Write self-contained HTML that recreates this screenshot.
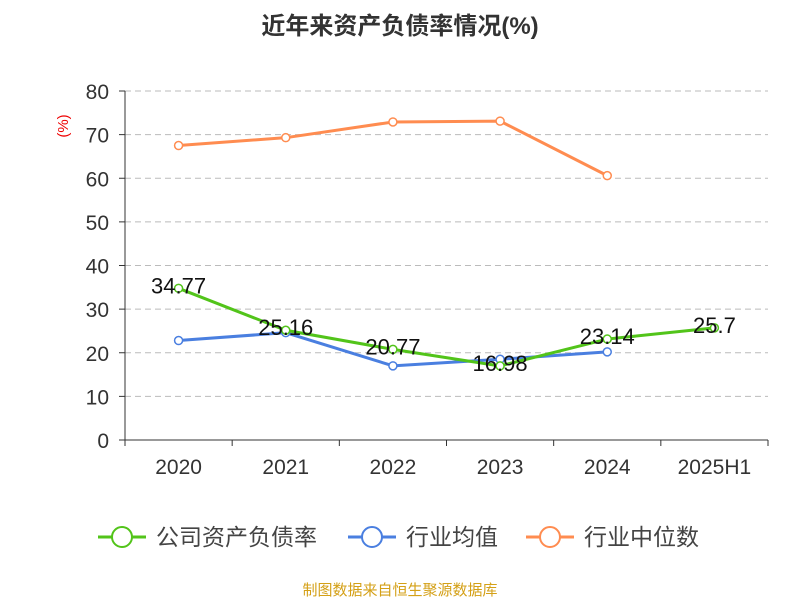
<!DOCTYPE html>
<html><head><meta charset="utf-8"><style>
body{margin:0;background:#fff;font-family:"Liberation Sans","Noto Sans CJK SC",sans-serif;}
svg text{font-family:"Liberation Sans","Noto Sans CJK SC",sans-serif;}
</style></head><body>
<svg id="chart" width="800" height="600">
<text x="400" y="34" text-anchor="middle" font-size="24" font-weight="bold" fill="#333">近年来资产负债率情况(%)</text>
<text x="68" y="126" font-size="15" fill="#e00" transform="rotate(-90 68 126)" text-anchor="middle">(%)</text>
<g id="grid"></g><g id="axes"></g><g id="series"></g><g id="labels"></g>
<g>
<g><line x1="98" y1="537" x2="146" y2="537" stroke="#52c41a" stroke-width="3"/><circle cx="122" cy="537" r="10" fill="#fff" stroke="#52c41a" stroke-width="2"/><text x="156" y="545" font-size="23" fill="#444">公司资产负债率</text></g>
<g><line x1="348" y1="537" x2="396" y2="537" stroke="#4a7fe0" stroke-width="3"/><circle cx="372" cy="537" r="10" fill="#fff" stroke="#4a7fe0" stroke-width="2"/><text x="406" y="545" font-size="23" fill="#444">行业均值</text></g>
<g><line x1="526" y1="537" x2="574" y2="537" stroke="#ff8c50" stroke-width="3"/><circle cx="550" cy="537" r="10" fill="#fff" stroke="#ff8c50" stroke-width="2"/><text x="584" y="545" font-size="23" fill="#444">行业中位数</text></g>
</g>
<text x="400" y="595" text-anchor="middle" font-size="15" fill="#d4a017">制图数据来自恒生聚源数据库</text>
</svg>
<script>
const categories=["2020","2021","2022","2023","2024","2025H1"];
const companyValues=[34.77,25.16,20.77,16.98,23.14,25.7];
const industryAvg=[22.8,24.6,17.0,18.5,20.2,null];
const industryMedian=[67.5,69.3,72.9,73.1,60.6,null];
const yTicks=[0,10,20,30,40,50,60,70,80];
const NS="http://www.w3.org/2000/svg";
const x0=125,x1=768,yBase=440,yTop=91,yMax=80;
const band=(x1-x0)/categories.length;
const xs=i=>x0+band*(i+0.5);
const ys=v=>yBase-(v/yMax)*(yBase-yTop);
function mk(tag,attrs,parent){const e=document.createElementNS(NS,tag);for(const k in attrs)e.setAttribute(k,attrs[k]);document.getElementById(parent).appendChild(e);return e;}
yTicks.forEach(t=>{
 if(t>0){const g=mk('line',{x1:x0,x2:x1,y1:ys(t),y2:ys(t),stroke:'#bbb','stroke-dasharray':'6,4'},'grid');
 
 }
 const tk=mk('line',{x1:x0-6,x2:x0,y1:ys(t),y2:ys(t),stroke:'#333'},'axes');
 
 
 const l=mk('text',{x:x0-16,y:ys(t)+8,'text-anchor':'end','font-size':21,fill:'#333'},'axes');l.textContent=t;
 
 
});
const ya=mk('line',{x1:x0,x2:x0,y1:yTop,y2:yBase,stroke:'#333'},'axes');


const xa=mk('line',{x1:x0,x2:x1,y1:yBase,y2:yBase,stroke:'#333'},'axes');


for(let i=0;i<=categories.length;i++){const t=mk('line',{x1:x0+band*i,x2:x0+band*i,y1:yBase,y2:yBase+6,stroke:'#333'},'axes');
 
 }
categories.forEach((c,i)=>{const l=mk('text',{x:xs(i),y:474,'text-anchor':'middle','font-size':21,fill:'#333'},'axes');l.textContent=c;
 
 });
function series(vals,color,name){
 const pts=vals.map((v,i)=>v==null?null:[xs(i),ys(v)]).filter(p=>p);
 const pl=mk('polyline',{points:pts.map(p=>p.join(',')).join(' '),fill:'none',stroke:color,'stroke-width':3},'series');
 
 
 pts.forEach(p=>{const c=mk('circle',{cx:p[0],cy:p[1],r:4,fill:'#fff',stroke:color,'stroke-width':1.5},'series');
 
 });
}
series(industryMedian,'#ff8c50','industry-median');
series(industryAvg,'#4a7fe0','industry-avg');
series(companyValues,'#52c41a','company');
companyValues.forEach((v,i)=>{const l=mk('text',{x:xs(i),y:ys(v)+5,'text-anchor':'middle','font-size':22,fill:'#111'},'labels');l.textContent=v;
 
 });
</script>
</body></html>
